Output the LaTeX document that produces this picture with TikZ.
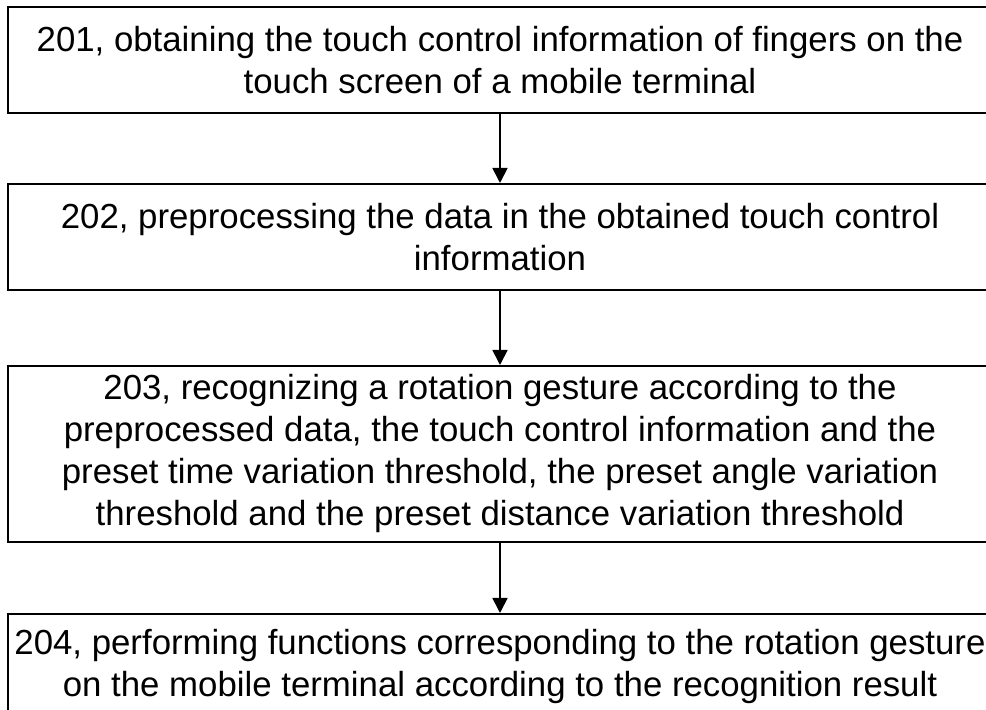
\documentclass[tikz,border=0pt]{standalone}
\usepackage{fontspec}
\setmainfont{Liberation Sans}
\usetikzlibrary{shapes,arrows.meta}
\usetikzlibrary{shapes.geometric,positioning}

\tikzset{
  stepbox/.style={draw=black, line width=1pt, rectangle, minimum width=492pt,
    minimum height=53pt, align=center, inner sep=2pt,
    font=\fontsize{17.4pt}{21pt}\selectfont},
  flow/.style={-{Triangle[width=7.5pt,length=7.5pt]}, line width=0.9pt, draw=black}
}

\begin{document}
\begin{tikzpicture}[x=1pt, y=1pt, node distance=35pt]
        \useasboundingbox (0,0) rectangle (493,-355);
        \node[stepbox] (s201) at (250,-30) {201, obtaining the touch control information of fingers on the\\touch screen of a mobile terminal};
        \node[stepbox, below=34.5pt of s201] (s202) {202, preprocessing the data in the obtained touch control\\information};
        \node[stepbox, below=37pt of s202, minimum height=88pt] (s203) {203, recognizing a rotation gesture according to the\\preprocessed data, the touch control information and the\\preset time variation threshold, the preset angle variation\\threshold and the preset distance variation threshold};
        \node[stepbox, below=35pt of s203] (s204) {204, performing functions corresponding to the rotation gesture\\on the mobile terminal according to the recognition result};
        % arrows between steps
        \draw[flow] (s201) -- (s202);
        \draw[flow] (s202) -- (s203);
        \draw[flow] (s203) -- (s204);
    \end{tikzpicture}
\end{document}
